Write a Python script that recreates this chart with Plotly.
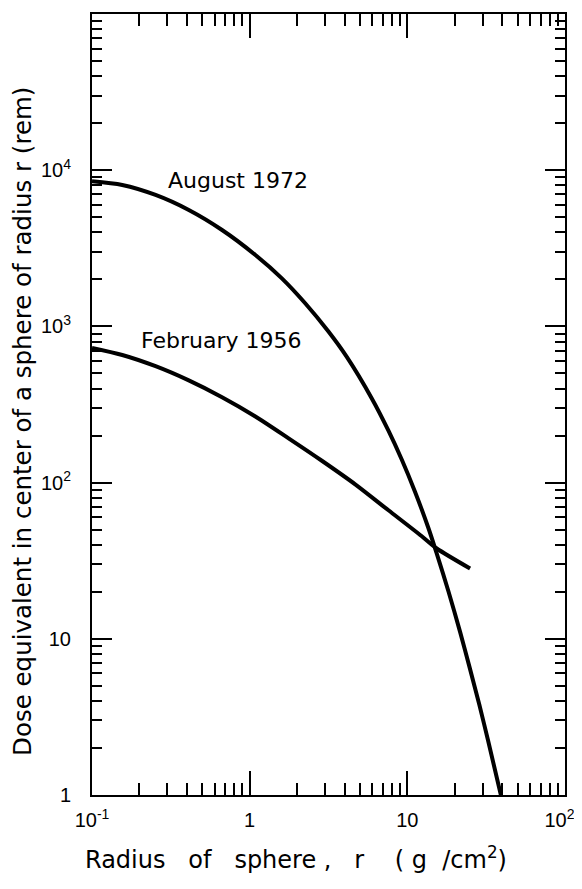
import plotly.graph_objects as go

# ---- data ----
x_aug = [0.1, 0.1556, 0.253, 0.411, 0.668, 1.087, 1.60, 2.25, 3.16, 4.13, 5.94, 7.59, 9.20,
         11.2, 13.6, 15.3, 18.26, 21.65, 24.9, 28.6, 32.6, 39.2]
y_aug = [8490, 8040, 6940, 5560, 4140, 2865, 2030, 1406, 927, 638, 347, 215, 141,
         87.1, 51.2, 35.6, 20.0, 11.0, 6.49, 3.79, 2.21, 1.0]

x_feb = [0.1, 0.1556, 0.253, 0.411, 0.668, 1.087, 1.766, 2.87, 4.67, 7.59, 12.3, 15.3, 25.0]
y_feb = [728, 656, 556, 451, 352, 265, 192, 138, 97.5, 66.5, 45.5, 38.0, 28.2]

x_tickvals = [0.1, 1, 10, 100]
x_ticktext = ["10<sup>-1</sup>", "1", "10", "10<sup>2</sup>\u00a0\u00a0"]
y_tickvals = [1, 10, 100, 1000, 10000, 100000]
y_ticktext = ["1", "10", "10<sup>2</sup>", "10<sup>3</sup>", "10<sup>4</sup>", "10<sup>5</sup>"]
minor_digits = [2, 3, 4, 5, 6, 7, 8, 9]

series_labels = ["August 1972", "February 1956"]
label_x_log = [-0.532, -0.703]
label_y_log = [3.931, 2.910]

FONT = "DejaVu Sans"
TICKFONT = "Liberation Sans"
NB = "\u00a0"

x_minor = [d * t for t in x_tickvals[:-1] for d in minor_digits]
y_minor = [d * t for t in y_tickvals[:-1] for d in minor_digits]

fig = go.Figure()
fig.add_trace(go.Scatter(x=x_aug, y=y_aug, mode="lines",
                         line=dict(color="black", width=4, shape="spline", smoothing=0.8),
                         name=series_labels[0], showlegend=False))
fig.add_trace(go.Scatter(x=x_feb, y=y_feb, mode="lines",
                         line=dict(color="black", width=4, shape="spline", smoothing=0.8),
                         name=series_labels[1], showlegend=False))

for txt, lx, ly in zip(series_labels, label_x_log, label_y_log):
    fig.add_annotation(x=lx, y=ly, text=txt, showarrow=False,
                       xanchor="left", yanchor="middle",
                       font=dict(family=FONT, size=22, color="black"))

# axis titles (placed as paper annotations, matching the off-centre placement in the reference)
x_title = ("Radius" + NB * 3 + "of" + NB * 3 + "sphere" + NB + "," + NB * 3 + "r" + NB * 4 +
           "(" + NB + "g" + NB * 2 + "/cm<sup>2</sup>)")
y_title = "Dose equivalent in center of a sphere of radius r (rem)"
fig.add_annotation(xref="paper", yref="paper", x=0.431, y=-0.0807, text=x_title, showarrow=False,
                   xanchor="center", yanchor="middle", font=dict(family=FONT, size=24, color="black"))
fig.add_annotation(xref="paper", yref="paper", x=-0.1459, y=0.4789, text=y_title, showarrow=False,
                   textangle=-90, xanchor="center", yanchor="middle", borderpad=0,
                   font=dict(family=FONT, size=24.5, color="black"))

common = dict(
    type="log", showgrid=False, zeroline=False, automargin=False,
    showline=True, linecolor="black", linewidth=2, mirror="allticks",
    ticks="inside", tickwidth=2, tickcolor="black",
    tickfont=dict(family=TICKFONT, size=20, color="black"),
)

fig.update_xaxes(range=[-1, 2], tickmode="array", tickvals=x_tickvals, ticktext=x_ticktext,
                 ticklen=24, ticklabelstandoff=6,
                 minor=dict(tickmode="array", tickvals=x_minor, ticks="inside", ticklen=12,
                            tickwidth=2, tickcolor="black", showgrid=False),
                 **common)
fig.update_yaxes(range=[0, 5], tickmode="array", tickvals=y_tickvals, ticktext=y_ticktext,
                 ticklen=20, ticklabelstandoff=15,
                 minor=dict(tickmode="array", tickvals=y_minor, ticks="inside", ticklen=10,
                            tickwidth=2, tickcolor="black", showgrid=False),
                 **common)

# the page body adds an 8px offset, so margins are shifted to keep the plot area in place
fig.update_layout(
    width=582, height=889,
    margin=dict(l=84, r=25, t=6, b=102),
    paper_bgcolor="white", plot_bgcolor="white",
    showlegend=False,
)

fig.write_html("out.html")
